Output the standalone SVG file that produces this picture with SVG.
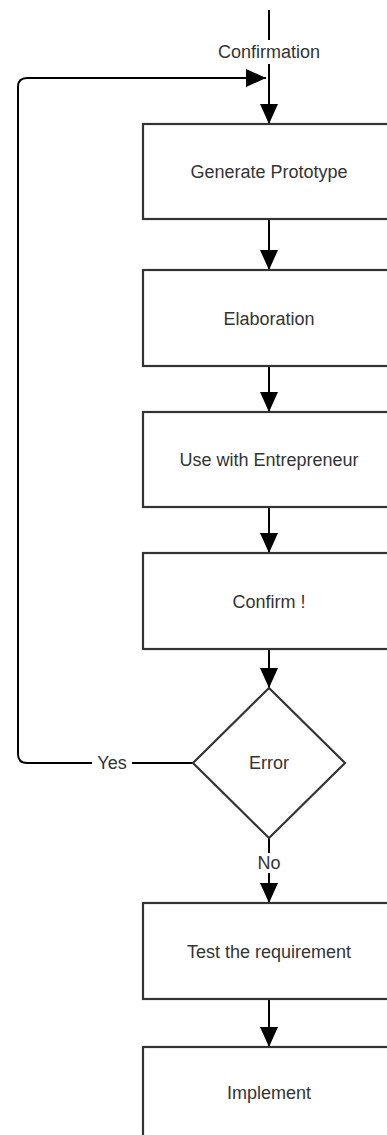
<svg xmlns="http://www.w3.org/2000/svg" width="387" height="1135" viewBox="0 0 387 1135">
<style>
.box{fill:#fff;stroke:#333;stroke-width:2.2}
.lbl{font-family:"Liberation Sans",Arial,sans-serif;font-size:18px;fill:#333;text-anchor:middle;dominant-baseline:central}
.ln{fill:none;stroke:#000;stroke-width:2}
</style>
<defs>
<marker id="ah" markerUnits="userSpaceOnUse" markerWidth="20" markerHeight="20" viewBox="0 0 20 20" refX="20" refY="10" orient="auto">
<path d="M0,1 L20,10 L0,19 z" fill="#000"/>
</marker>
</defs>
<g id="connectors">
<line class="ln" x1="269" y1="10" x2="269" y2="40"/>
<text class="lbl" x="269" y="52">Confirmation</text>
<line class="ln" x1="269" y1="64" x2="269" y2="124" marker-end="url(#ah)"/>
<path class="ln" d="M193,763 L132,763"/>
<path class="ln" d="M92,763 L27,763 Q18,763 18,754 L18,87 Q18,78 27,78 L266,78" marker-end="url(#ah)"/>
<text class="lbl" x="112" y="763">Yes</text>
<line class="ln" x1="269" y1="219" x2="269" y2="270" marker-end="url(#ah)"/>
<line class="ln" x1="269" y1="366" x2="269" y2="412" marker-end="url(#ah)"/>
<line class="ln" x1="269" y1="507" x2="269" y2="553" marker-end="url(#ah)"/>
<line class="ln" x1="269" y1="649" x2="269" y2="688" marker-end="url(#ah)"/>
<line class="ln" x1="269" y1="838" x2="269" y2="853"/>
<text class="lbl" x="269" y="863">No</text>
<line class="ln" x1="269" y1="873" x2="269" y2="903" marker-end="url(#ah)"/>
<line class="ln" x1="269" y1="999" x2="269" y2="1047" marker-end="url(#ah)"/>
</g>
<g id="generate">
<rect class="box" x="143" y="124" width="252" height="95"/>
<text class="lbl" x="269" y="172">Generate Prototype</text>
</g>
<g id="elaboration">
<rect class="box" x="143" y="270" width="252" height="96"/>
<text class="lbl" x="269" y="319">Elaboration</text>
</g>
<g id="use">
<rect class="box" x="143" y="412" width="252" height="95"/>
<text class="lbl" x="269" y="460">Use with Entrepreneur</text>
</g>
<g id="confirm">
<rect class="box" x="143" y="553" width="252" height="96"/>
<text class="lbl" x="269" y="602">Confirm !</text>
</g>
<g id="error">
<polygon class="box" points="269,688 345,763 269,838 193,763"/>
<text class="lbl" x="269" y="763">Error</text>
</g>
<g id="test">
<rect class="box" x="143" y="903" width="252" height="96"/>
<text class="lbl" x="269" y="952">Test the requirement</text>
</g>
<g id="implement">
<rect class="box" x="143" y="1047" width="252" height="96"/>
<text class="lbl" x="269" y="1093">Implement</text>
</g>
</svg>
